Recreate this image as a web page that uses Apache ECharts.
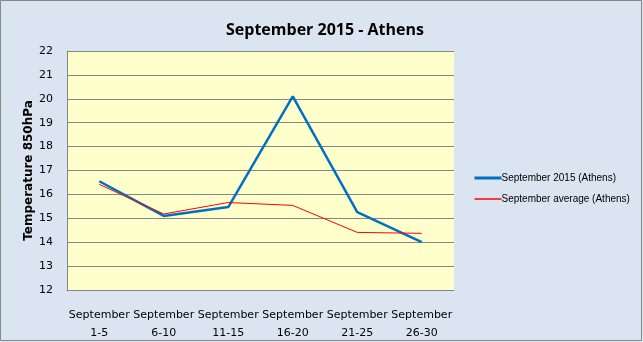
<!DOCTYPE html>
<html><head><meta charset="utf-8">
<script src="https://cdn.jsdelivr.net/npm/echarts@6/dist/echarts.min.js"></script>
<style>html,body{margin:0;padding:0;background:#dbe5f1}#c{width:643px;height:342px}</style>
</head><body><div id="c"></div>
<script>
const categories = ["September\n1-5","September\n6-10","September\n11-15","September\n16-20","September\n21-25","September\n26-30"];
const sep2015 = [16.55, 15.1, 15.47, 20.1, 15.26, 14.0];
const sepAverage = [16.42, 15.18, 15.66, 15.54, 14.41, 14.37];
const seriesNames = ["September 2015 (Athens)", "September average (Athens)"];
const yMin = 12, yMax = 22, yStep = 1;

const chart = echarts.init(document.getElementById('c'), null, {renderer:'canvas'});
const font = '"DejaVu Sans", Verdana, sans-serif';
chart.setOption({
  animation:false,
  backgroundColor:'#dbe5f1',
  title:{text:'September 2015 - Athens', left:320, top:17, textAlign:'center',
    textStyle:{fontSize:16, fontWeight:'bold', color:'#000', fontFamily:'"Open Sans", "DejaVu Sans", sans-serif'}},
  graphic:[{type:'rect', shape:{x:0.5,y:0.5,width:641,height:340}, style:{fill:null, stroke:'#888', lineWidth:1}, silent:true, z:100}],
  grid:{left:67, top:51, width:387, height:239, show:true, backgroundColor:'#ffffcc', borderWidth:0},
  legend:{orient:'vertical', left:468, top:168, itemGap:11, itemWidth:27, itemHeight:12,
    textStyle:{fontSize:10, fontFamily:'"Liberation Sans", Arial, sans-serif', color:'#000', padding:[0,0,0,-5]},
    data:[
      {name:seriesNames[0], lineStyle:{width:3}, itemStyle:{color:'transparent', borderWidth:0, opacity:0}},
      {name:seriesNames[1], lineStyle:{width:1.5}, itemStyle:{color:'transparent', borderWidth:0, opacity:0}}
    ]},
  xAxis:{type:'category', data:categories, boundaryGap:true,
    axisLine:{show:true, lineStyle:{color:'#868686'}}, axisTick:{show:false},
    axisLabel:{fontSize:11, fontFamily:font, color:'#000', lineHeight:18, margin:16, interval:0}},
  yAxis:{type:'value', min:yMin, max:yMax, interval:yStep,
    name:'Temperature 850hPa', nameLocation:'middle', nameGap:32, nameRotate:90, nameMoveOverlap:false,
    nameTextStyle:{fontSize:12, fontWeight:'bold', fontFamily:font, color:'#000'},
    axisLine:{show:true, lineStyle:{color:'#868686'}}, axisTick:{show:false},
    axisLabel:{fontSize:11, fontFamily:font, color:'#000', margin:14},
    splitLine:{lineStyle:{color:'#868686', width:1}}},
  series:[
    {name:seriesNames[0], type:'line', data:sep2015, symbol:'none', lineStyle:{color:'#0070c0', width:2.5}, itemStyle:{color:'#0070c0'}, z:3},
    {name:seriesNames[1], type:'line', data:sepAverage, symbol:'none', lineStyle:{color:'#ff0000', width:1}, itemStyle:{color:'#ff0000'}, z:4}
  ]
});
</script></body></html>
